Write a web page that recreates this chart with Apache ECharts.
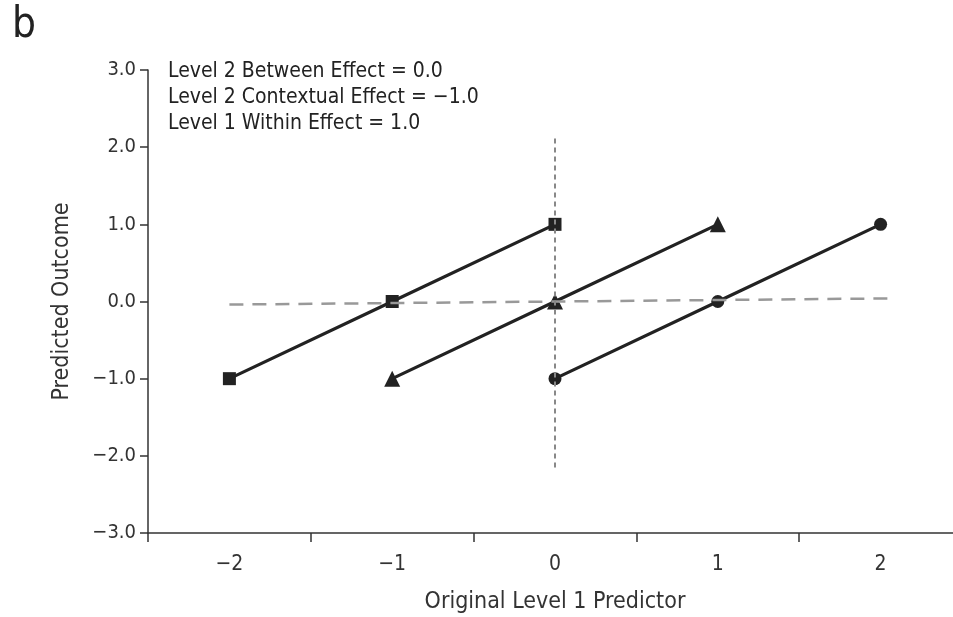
<!DOCTYPE html>
<html><head><meta charset="utf-8">
<script src="https://cdn.jsdelivr.net/npm/echarts@6/dist/echarts.min.js"></script>
<style>html,body{margin:0;padding:0;background:#fff}#c{width:953px;height:617px}</style>
</head><body><div id="c"></div>
<script>
const FONT = '"Liberation Sans Narrow","DejaVu Sans Condensed","Roboto Condensed",sans-serif';
const squarePts = [[-2,-1],[-1,0],[0,1]];
const trianglePts = [[-1,-1],[0,0],[1,1]];
const circlePts = [[0,-1],[1,0],[2,1]];
const betweenLine = [[-2.0,-0.04],[2.05,0.04]];
const zeroLine = [[0,-2.15],[0,2.15]];
const annotations = ['Level 2 Between Effect = 0.0','Level 2 Contextual Effect = \u22121.0','Level 1 Within Effect = 1.0'];
const panelLabel = 'b';
const xName = 'Original Level 1 Predictor';
const yName = 'Predicted Outcome';

const fmtMinus = s => s.replace('-', '\u2212');
const chart = echarts.init(document.getElementById('c'));
const dark = '#222';
const mkLine = (data, sym) => ({
  type:'line', data, symbol:sym, symbolSize: sym==='triangle'?16:13, z:3,
  lineStyle:{color:dark,width:3.2}, itemStyle:{color:dark}, animation:false
});
chart.setOption({
  animation:false,
  textStyle:{fontFamily:FONT},
  grid:{left:148,top:70,right:-9,bottom:84,outerBoundsMode:'none',containLabel:false},
  graphic:[
    {type:'text',left:12,top:5,style:{text:panelLabel,font:'42px '+FONT,fill:'#222'}},
    {type:'text',left:168,top:59,style:{text:annotations.join('\n'),font:'21px '+FONT,lineHeight:26,fill:'#222'}}
  ],
  xAxis:[
    {type:'value',min:-2.5,max:2.5,interval:1,position:'bottom',
     axisLine:{onZero:false,lineStyle:{color:'#333',width:1.5}},
     axisTick:{show:true,length:9,lineStyle:{color:'#333',width:1.5}},
     axisLabel:{show:false},splitLine:{show:false},
     name:xName,nameLocation:'middle',nameGap:58,
     nameTextStyle:{fontSize:23,color:'#333',fontFamily:FONT}},
    {type:'value',min:-2.5,max:2.5,interval:0.5,position:'bottom',
     axisLine:{show:false,onZero:false},axisTick:{show:false},splitLine:{show:false},
     axisLabel:{margin:21,fontSize:21,color:'#333',fontFamily:FONT,
       formatter:v=>Number.isInteger(v)?fmtMinus(String(v)):''}}
  ],
  yAxis:{type:'value',min:-3,max:3,interval:1,
    axisLine:{show:true,onZero:false,lineStyle:{color:'#333',width:1.5}},
    axisTick:{show:true,length:8,lineStyle:{color:'#333',width:1.5}},
    splitLine:{show:false},
    axisLabel:{margin:12,fontSize:20,color:'#333',fontFamily:FONT,formatter:v=>fmtMinus(v.toFixed(1))},
    name:yName,nameLocation:'middle',nameGap:74,
    nameTextStyle:{fontSize:23,color:'#333',fontFamily:FONT}},
  series:[
    mkLine(squarePts,'rect'),
    mkLine(trianglePts,'triangle'),
    mkLine(circlePts,'circle'),
    {type:'line',data:betweenLine,symbol:'none',z:4,lineStyle:{color:'#999',width:2.5,type:[14,9]}},
    {type:'line',data:zeroLine,symbol:'none',z:4,lineStyle:{color:'#888',width:2,type:[5,4]}}
  ]
});
</script></body></html>
